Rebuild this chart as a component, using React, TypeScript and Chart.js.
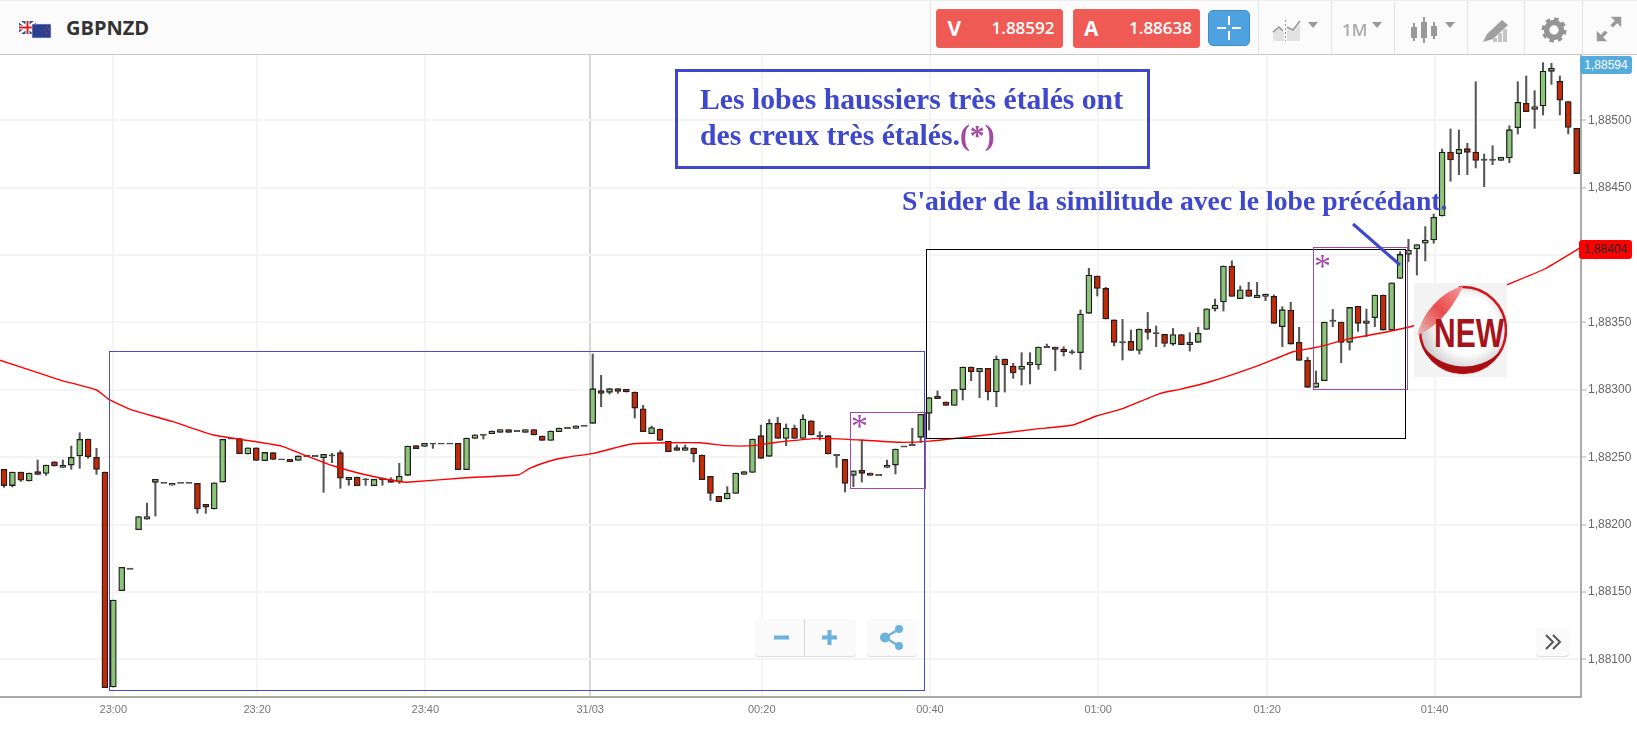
import React, { useEffect, useRef } from "react";
import { Chart, registerables } from "chart.js";

Chart.register(...registerables);

// All prices are written as points above BASE (1 point = 0.00001).
const BASE = 1.88;
const POINT = 0.00001;

const opens = [241,229,239,232.4,239.3,238,246.7,242.5,244.2,251,263.5,250,239,79.5,151,167.3,196.3,204,231.4,231,229.2,231,231,230.6,215,211.6,231.6,263.8,263.8,252.4,257,247.5,253.4,248.4,248.4,247.7,
250.9,250.9,249.7,251.4,253.4,233.4,235.3,233.6,228.9,234.6,233.4,231.9,236.6,258.6,258.1,260.1,260.1,260.1,260.3,240.8,264,266.7,267.5,268.5,270.5,269.5,268.5,270.5,265.8,262.5,269,271.7,271.4,273.4,275.2,
299.4,298.2,300.9,300.4,298.4,286,267.5,271,261.8,257.1,255.1,256.9,251.7,235.8,221,219,223.2,237.3,238.8,266,250.7,275.2,264,271.7,264,277.1,265.8,266,251.7,248.4,236.6,240.3,238.3,236.8,242.5,244.2,
258,259.1,264.8,282.6,295.2,291,288.5,300.2,317,313.5,316,298.4,322.9,317.7,315.2,318.5,318.5,331.8,331.8,330.3,327.9,327.6,356.8,384.5,375.3,351.9,335.3,336,329.3,345.2,342,341.2,334,341,333.5,335.3,344.9,360,365.2,391.9,367.7,374.3,368.4,369.4,369.4,346.9,359.2,335.3,321.9,301.9,306.8,351.3,350.3,335.3,362,349.4,353.6,370.4,344.4,382.7,
400.6,404.6,408.8,411.2,429,476.5,475.3,479,476.5,470.8,470.8,470.3,472.1,494.6,512.6,508.2,510.7,536.4,529,513.9,494.1];

const closes = [229,239,233,238.3,237.3,244.2,243.5,244.2,250,263.3,250.4,241,79,144,168.3,167.3,206,206,233.6,231,230.6,231,231,211.6,213,231,263.3,263.8,252.6,257,247.7,253.6,248.4,248.4,246.7,251,
250.9,250.9,252.2,251.4,234.4,235.1,228.9,233.6,233.6,233.1,231.4,236.1,258.3,256.4,260.3,260.1,260.1,260.1,240.8,264.3,266.7,266.7,269.5,270.5,268.5,269.5,270.5,266.5,262.5,269.5,271.7,271.7,273.4,273.4,300.9,
297.4,300.9,298.9,298.4,286.5,269,272,262.5,254.1,255.1,257.1,252.4,233.4,223.2,217,223.5,238.3,239.3,263.5,249.2,275.2,264,271.7,264,278.4,266.5,265.8,252.4,251.7,230.6,240,238.1,236.6,236.8,244.2,256.1,
258,259.1,281.9,294.2,293.5,288.5,300.2,317,313.5,316,298.4,322.9,318.5,312.5,317.7,320.4,331.8,331.8,330.1,328.4,327.9,356.3,385.2,375.3,352.6,335.3,335.3,329.3,345.2,342.7,342,334.5,341,333.5,335.3,342,360.2,363,391.9,369.4,374.3,369.4,370.4,371.1,349.4,359.5,334,321.9,301.9,305.3,350.3,351.3,335.3,361.2,349.4,351.3,370.4,344.4,379.5,400.5,
403.8,407.8,411.2,428,476.5,470.6,478.5,476.3,470.3,470.8,470.8,472.6,493.1,513.4,506.5,510.2,536.6,538.6,514.9,494.8,460.5];

const highs = [241,239,239,238.3,248,244.2,246.7,248,258.3,268.2,263.5,256.6,239,144,168.3,167.3,206,216,233.6,231,230.6,231,231,230.6,215,231,263.3,263.8,263.8,257,257,253.6,253.4,248.4,248.4,251,
250.9,250.9,252.2,252.9,254.9,235.1,235.3,234.3,233.6,234.6,234.8,245.5,258.3,258.6,260.3,260.1,260.1,260.1,260.3,264.3,266.7,266.7,269.5,270.5,270.5,269.5,270.5,270.5,265.8,269.5,271.7,271.7,273.4,273.4,326.6,
310.8,300.9,300.9,300.4,298.4,288.5,273.2,271,261.8,259.1,259.1,256.9,251.7,235.8,221,228.2,238.3,239.3,263.5,273.9,278.1,279.6,274.7,273.9,281.6,277.1,269,266,251.7,248.4,240,262.8,238.3,236.8,247.9,256.1,
258,271.5,281.9,294.2,299.2,291,300.2,317,317,316,316,325.1,322.9,319.7,327.6,327.6,331.8,334,331.8,332,329.6,359.3,390.2,384.5,376.1,351.9,352.3,344.4,345.2,357.5,347.4,341.2,345.6,341,342.4,346.4,360.2,367.4,391.9,395.8,377.1,379.8,379.8,371.1,370.4,361.7,365,346.4,324.1,314,350.3,359.7,350.3,361.2,362,360,370.4,370.4,379.5,402.5,
411.7,407.8,421.1,430.5,478.7,493.6,492.8,483,528.7,475,481.2,472.6,496,528.7,532.9,522,542.8,542.3,532.9,513.9,494.1];

const lows = [227.7,228,232,232.4,237,236.6,243.5,242.5,241,241.8,249.2,237.3,79,79.5,151,167.3,196.3,204,206.4,231,229.2,231,231,208.4,208.4,211.6,231.6,263.8,252.6,252.4,247.7,247.5,248.4,248.4,246.7,247.7,
250.9,250.9,224,246,227,229.2,228.9,229.2,228.9,229.2,231.4,230.6,236.6,256.4,258.1,256.6,260.1,260.1,240.8,240.8,264,263.5,267.5,268.5,268.5,269.5,268.5,266.5,262.5,262.5,269,271.7,271.4,273.4,275.2,
287.5,296.9,297.4,298.4,279.1,269,267.5,262.5,254.1,255.1,255.1,246.5,233.4,218,217,219,223.2,237.3,238.8,249.2,250.7,264,258.6,264,264,266.5,262.8,252.4,242.5,224.2,228.2,231.6,236.6,236.8,242.5,237.6,
258,259.1,261,270.2,293.5,288.5,288.5,292.5,306.8,294.2,292.5,287.5,298.4,308.6,303.6,304.4,315.2,331.8,314.3,325.1,326.6,315.2,356.8,369.7,352.6,332.6,322.2,329.3,326.6,337.5,332.1,332,333,333.5,328.8,335.3,344.9,358.5,358.5,369.4,367.7,369.4,368.4,366.2,349.4,332,334,321.9,301.9,301.9,306.8,346.9,320.2,329.6,343.4,339.5,346.9,344.4,344.4,382.7,
395.2,385.2,395.7,408.8,429,454.8,459.7,459.7,464.7,450.8,467.1,470.3,468.6,489.9,506.5,494.1,504,526.7,504,489.9,460.5];

// Moving average, read at the bends of the line: candle position and price points.
const maPositions = [-0.5,6.7,11,12.4,15,20.1,24.9,30,33,35.2,39.2,43.1,47.1,48.3,55,61.2,62.5,64.9,66.9,70.1,74.8,82.8,85.9,89.1,91.9,97,101.8,106.5,110.1,116.2,122.4,127.1,129.9,133.1,137.5,139.8,143.4,149.3,153.3,156.1,159.7,163.6,167.6,178.9,183.2,187.3];
const maValues = [322.1,307.3,299.9,293.2,285.6,276.4,266.5,261.5,258.3,252.9,243.5,236.8,231.8,231.6,234.8,237,241.8,247.2,250,252.9,260,260.8,258.6,258.6,261.1,264,262.8,261.1,262,266.1,270.7,273.9,280.6,286.3,297.4,300.4,306,318.4,328.3,331.6,337.5,342,347.6,378.5,389.7,405];

const xTickPositions = [13, 30.1, 50.1, 69.7, 90.1, 110.1, 130.1, 150.2, 170.1];
const xTickLabels = ["23:00", "23:20", "23:40", "31/03", "00:20", "00:40", "01:00", "01:20", "01:40"];
const yTicks = [1.881, 1.8815, 1.882, 1.8825, 1.883, 1.8835, 1.884, 1.8845, 1.885];

const toPrice = (p: number) => BASE + p * POINT;
const GREEN = "#8cc47a";
const RED = "#c42a08";
const INK = "#3f48cc";
const PURPLE = "#a349a4";

function Frame({ l, t, r, b, color, w = 1 }: { l: number; t: number; r: number; b: number; color: string; w?: number }) {
  return (
    <div style={{ position: "absolute", left: l, top: t, width: r - l, height: b - t, boxSizing: "border-box", border: `${w}px solid ${color}` }} />
  );
}

function Caret({ x, y }: { x: number; y: number }) {
  return <div style={{ position: "absolute", left: x, top: y, width: 0, height: 0, borderLeft: "5px solid transparent", borderRight: "5px solid transparent", borderTop: "6px solid #999" }} />;
}

function Divider({ x }: { x: number }) {
  return <div style={{ position: "absolute", left: x, top: 0, width: 1, height: 55, background: "#e4e4e4" }} />;
}

function Toolbar() {
  const btn = { position: "absolute", top: 8, height: 39, borderRadius: 3, background: "#ef5a55", border: "1px solid #e8605c", boxSizing: "border-box", color: "#fff", fontFamily: "'Open Sans'" } as React.CSSProperties;
  return (
    <div style={{ position: "absolute", left: 0, top: 0, width: 1637, height: 55, background: "#fbfbfb", borderTop: "1px solid #eee", borderBottom: "1px solid #c8c8c8", boxSizing: "border-box" }}>
      <svg style={{ position: "absolute", left: 18, top: 19 }} width="36" height="19" viewBox="0 0 36 19">
        <rect x="1" y="1" width="17" height="13" fill="#3b4a8c" />
        <path d="M1 1L18 14M18 1L1 14" stroke="#fff" strokeWidth="2.5" />
        <path d="M9.5 1V14M1 7.5H18" stroke="#fff" strokeWidth="4" />
        <path d="M9.5 1V14M1 7.5H18" stroke="#d22" strokeWidth="2" />
        <rect x="14" y="4" width="19" height="14" fill="#2c3f8f" stroke="#dde" strokeWidth="0.6" />
        <path d="M28 7h.8M30 9h.8M26 10h.8M28 13h.8" stroke="#e44" strokeWidth="1.4" />
      </svg>
      <div style={{ position: "absolute", left: 66, top: 13, fontFamily: "'Open Sans'", fontWeight: 700, fontSize: 20, lineHeight: "27px", color: "#333" }}>GBPNZD</div>
      <Divider x={930} />
      <div style={{ ...btn, left: 935.5, width: 127 }}>
        <span style={{ position: "absolute", left: 11, top: 3, fontSize: 21, fontWeight: 700, lineHeight: "30px" }}>V</span>
        <span style={{ position: "absolute", right: 7, top: 5, fontSize: 17, fontWeight: 600, lineHeight: "26px" }}>1.88592</span>
      </div>
      <div style={{ ...btn, left: 1073, width: 127 }}>
        <span style={{ position: "absolute", left: 10, top: 3, fontSize: 21, fontWeight: 700, lineHeight: "30px" }}>A</span>
        <span style={{ position: "absolute", right: 7, top: 5, fontSize: 17, fontWeight: 600, lineHeight: "26px" }}>1.88638</span>
      </div>
      <div style={{ position: "absolute", left: 1207.5, top: 9, width: 42, height: 36, borderRadius: 5, background: "#4ea2e0", border: "1px solid #3f8fc9", boxSizing: "border-box" }}>
        <svg width="40" height="34" viewBox="0 0 40 34" style={{ position: "absolute", left: 0, top: 0 }}>
          <path d="M8 17H17M23 17H32M20 5V14M20 20V29" stroke="#fff" strokeWidth="2" />
        </svg>
      </div>
      <Divider x={1258} />
      <svg style={{ position: "absolute", left: 1272, top: 17 }} width="30" height="24" viewBox="0 0 30 24">
        <path d="M1 23V14L7 9L12 15V23Z" fill="#e2e2e2" />
        <path d="M15 23V9L21 12L28 6V23Z" fill="#e2e2e2" />
        <path d="M1 14L7 9L11 13M15 9L21 12L28 3" stroke="#999" strokeWidth="1.6" fill="none" />
        <path d="M13.5 2V23" stroke="#999" strokeWidth="1" strokeDasharray="2 2" />
      </svg>
      <Caret x={1308} y={21} />
      <Divider x={1331} />
      <div style={{ position: "absolute", left: 1342, top: 17, fontFamily: "'Open Sans'", fontWeight: 600, fontSize: 17, lineHeight: "24px", color: "#aaa" }}>1M</div>
      <Caret x={1372} y={21} />
      <Divider x={1394} />
      <svg style={{ position: "absolute", left: 1409, top: 14 }} width="30" height="30" viewBox="0 0 30 30">
        <path d="M5 8V26M15 2V28M25 7V24" stroke="#999" strokeWidth="2" />
        <rect x="2" y="12" width="6" height="11" fill="#999" />
        <rect x="12" y="7" width="6" height="16" fill="#999" />
        <rect x="22" y="11" width="6" height="10" fill="#999" />
      </svg>
      <Caret x={1445} y={21} />
      <Divider x={1467} />
      <svg style={{ position: "absolute", left: 1481, top: 17 }} width="30" height="26" viewBox="0 0 30 26">
        <path d="M2 24L6 16L21 2L27 7L12 21Z" fill="#a0a0a0" />
        <path d="M14 24V20M19 24V15M24 24V11" stroke="#c4c4c4" strokeWidth="4" />
      </svg>
      <Divider x={1524} />
      <svg style={{ position: "absolute", left: 1541, top: 16 }} width="26" height="26" viewBox="0 0 28 28">
        <circle cx="14" cy="14" r="8" fill="none" stroke="#949494" strokeWidth="6" />
        <circle cx="14" cy="14" r="11" fill="none" stroke="#949494" strokeWidth="5" strokeDasharray="4.5 4.1" />
      </svg>
      <Divider x={1582} />
      <svg style={{ position: "absolute", left: 1595, top: 14 }} width="28" height="28" viewBox="0 0 32 32">
        <path d="M4 28L13 19M28 4L19 13" stroke="#9a9a9a" strokeWidth="4" />
        <path d="M2 18V30H14ZM30 14V2H18Z" fill="#9a9a9a" />
      </svg>
    </div>
  );
}

function NewSticker() {
  return (
    <svg style={{ position: "absolute", left: 1414, top: 283 }} width="93" height="94" viewBox="0 0 93 94">
      <defs>
        <radialGradient id="face" cx="0.55" cy="0.45" r="0.6">
          <stop offset="0.55" stopColor="#ffffff" />
          <stop offset="1" stopColor="#bdbdbd" />
        </radialGradient>
        <linearGradient id="peel" x1="0" y1="1" x2="1" y2="0">
          <stop offset="0" stopColor="#e8c0c0" />
          <stop offset="0.5" stopColor="#e94b4b" />
          <stop offset="1" stopColor="#f79a9a" />
        </linearGradient>
      </defs>
      <rect width="93" height="94" fill="#f3f3f3" />
      <circle cx="49" cy="47" r="43" fill="url(#face)" stroke="#d3151b" strokeWidth="2.5" />
      <path d="M5 52A44 44 0 0 0 88 66A46 40 0 0 1 5 52Z" fill="#a80f14" />
      <path d="M0 0H48L4 51H0Z" fill="#f3f3f3" />
      <path d="M3 52C20 46 38 28 49 3C30 8 10 26 3 52Z" fill="url(#peel)" />
      <text x="20" y="64" fontFamily="'Liberation Sans'" fontWeight="700" fontSize="41" textLength="70" lengthAdjust="spacingAndGlyphs" fill="#a5141a">NEW</text>
    </svg>
  );
}

function Controls() {
  const card = { position: "absolute", background: "#fafafa", borderRadius: 4, boxShadow: "0 1px 1px #ddd" } as React.CSSProperties;
  return (
    <>
      <div style={{ ...card, left: 755, top: 619, width: 101, height: 37 }}>
        <div style={{ position: "absolute", left: 49, top: 0, width: 1, height: 37, background: "#d6d6d6" }} />
        <svg width="101" height="37" viewBox="0 0 101 37" style={{ position: "absolute", left: 0, top: 0 }}>
          <path d="M19 18.5H34M67 18.5H82M74.5 11V26" stroke="#6cb2de" strokeWidth="4" />
        </svg>
      </div>
      <div style={{ ...card, left: 867, top: 619, width: 50, height: 37 }}>
        <svg width="50" height="37" viewBox="0 0 50 37" style={{ position: "absolute", left: 0, top: 0 }}>
          <path d="M18 18.5L32 10M18 18.5L32 27" stroke="#6cb2de" strokeWidth="2.5" />
          <circle cx="18" cy="18.5" r="5" fill="#6cb2de" />
          <circle cx="32" cy="10" r="4" fill="#6cb2de" />
          <circle cx="32" cy="27" r="4" fill="#6cb2de" />
        </svg>
      </div>
      <div style={{ ...card, left: 1536, top: 628, width: 33, height: 28 }}>
        <svg width="33" height="28" viewBox="0 0 33 28" style={{ position: "absolute", left: 0, top: 0 }}>
          <path d="M10 7L17 14L10 21M17 7L24 14L17 21" stroke="#555" strokeWidth="2" fill="none" />
        </svg>
      </div>
    </>
  );
}

function Annotations() {
  const serif = { position: "absolute", fontFamily: "'Liberation Serif'", fontWeight: 700, whiteSpace: "nowrap", color: INK } as React.CSSProperties;
  const star = { ...serif, fontWeight: 400, width: 16, textAlign: "center", fontSize: 34, lineHeight: "34px", color: PURPLE } as React.CSSProperties;
  return (
    <>
      <Frame l={109} t={351} r={925} b={691} color="#4550c8" />
      <Frame l={926} t={249} r={1406} b={439} color="#000" />
      <Frame l={850} t={412} r={926} b={489} color={PURPLE} />
      <Frame l={1313} t={247} r={1408} b={390} color={PURPLE} />
      <div style={{ ...star, left: 851, top: 409 }}>*</div>
      <div style={{ ...star, left: 1314, top: 249 }}>*</div>
      <Frame l={675} t={69} r={1150} b={169} color={INK} w={3} />
      <div style={{ ...serif, left: 700, top: 82, fontSize: 29.7, lineHeight: "35px" }}>Les lobes haussiers très étalés ont</div>
      <div style={{ ...serif, left: 700, top: 118, fontSize: 29.7, lineHeight: "35px" }}>
        des creux très étalés.<span style={{ color: PURPLE }}>(*)</span>
      </div>
      <div style={{ ...serif, left: 902, top: 186, fontSize: 27.7, lineHeight: "30px" }}>S'aider de la similitude avec le lobe précédant.</div>
      <svg style={{ position: "absolute", left: 1345, top: 218 }} width="65" height="55" viewBox="0 0 65 55">
        <path d="M8 6L55 47" stroke={INK} strokeWidth="3" />
      </svg>
      <NewSticker />
      <div style={{ position: "absolute", left: 1580, top: 56, width: 52, height: 18, borderRadius: 3, background: "#55acdc", color: "#fff", fontFamily: "'Liberation Sans'", fontSize: 12, lineHeight: "18px", textAlign: "center" }}>1,88594</div>
      <div style={{ position: "absolute", left: 1579, top: 240, width: 53, height: 19, borderRadius: 3, background: "#ff0000", color: "#222", fontFamily: "'Liberation Sans'", fontSize: 12, lineHeight: "19px", textAlign: "center" }}>1,88404</div>
    </>
  );
}

export default function App() {
  const ref = useRef<HTMLCanvasElement>(null);
  useEffect(() => {
    if (!ref.current) return;
    const up = opens.map((o, i) => closes[i] >= o);
    const doji = opens.map((o, i) => o === closes[i]);
    const chart = new Chart(ref.current, {
      type: "bar",
      data: {
        datasets: [
          {
            type: "bar",
            label: "Mèches",
            order: 3,
            grouped: false,
            barThickness: 1.4,
            backgroundColor: "#555",
            borderWidth: 0,
            data: highs.map((h, i) => ({ x: i, y: [toPrice(lows[i]), toPrice(h)] })),
          },
          {
            type: "bar",
            label: "Corps",
            order: 2,
            grouped: false,
            barThickness: 6,
            backgroundColor: opens.map((_, i) => (doji[i] ? "#444" : up[i] ? GREEN : RED)),
            borderColor: opens.map((_, i) => (doji[i] ? "#444" : "#1f1f1f")),
            borderWidth: 1.3,
            borderSkipped: false,
            data: opens.map((o, i) => ({
              x: i,
              y: doji[i] ? [toPrice(o - 0.45), toPrice(o + 0.45)] : [toPrice(o), toPrice(closes[i])],
            })),
          },
          {
            type: "line",
            label: "Moyenne mobile",
            order: 1,
            borderColor: "#ff0000",
            borderWidth: 1.4,
            pointRadius: 0,
            tension: 0.15,
            data: maPositions.map((x, i) => ({ x, y: toPrice(maValues[i]) })),
          },
        ],
      } as any,
      options: {
        animation: false,
        responsive: false,
        devicePixelRatio: 1,
        layout: { padding: { top: 55, left: 0, right: 0, bottom: 0 } },
        plugins: { legend: { display: false }, title: { display: false }, tooltip: { enabled: false } },
        scales: {
          x: {
            type: "linear",
            min: -0.4756,
            max: 187.515,
            offset: false,
            afterBuildTicks: (scale: any) => {
              scale.ticks = xTickPositions.map((value) => ({ value }));
            },
            afterFit: (scale: any) => {
              scale.height = 35;
            },
            grid: {
              offset: false,
              color: (ctx: any) => (ctx.tick && ctx.tick.value === 69.7 ? "#d8d8d8" : "#f4f4f4"),
              lineWidth: 2,
              drawTicks: false,
            },
            border: { color: "#aaaaaa", width: 2 },
            ticks: {
              autoSkip: false,
              maxRotation: 0,
              padding: 6,
              color: "#777",
              font: { family: "'Liberation Sans'", size: 11 },
              callback: (v: any) => {
                const k = xTickPositions.indexOf(Number(v));
                return k >= 0 ? xTickLabels[k] : "";
              },
            },
          },
          y: {
            type: "linear",
            position: "right",
            min: toPrice(72.1),
            max: toPrice(548.5),
            afterBuildTicks: (scale: any) => {
              scale.ticks = yTicks.map((value) => ({ value }));
            },
            afterFit: (scale: any) => {
              scale.width = 56;
            },
            grid: { color: "#f4f4f4", lineWidth: 2, tickColor: "#aaaaaa", tickWidth: 1, tickLength: 5 },
            border: { color: "#aaaaaa", width: 2 },
            ticks: {
              padding: 2,
              color: "#666",
              font: { family: "'Liberation Sans'", size: 12 },
              callback: (v: any) => Number(v).toFixed(5).replace(".", ","),
            },
          },
        },
      } as any,
    });
    return () => chart.destroy();
  }, []);

  return (
    <div style={{ position: "absolute", left: 0, top: 0, width: 1637, height: 732, background: "#fff", overflow: "hidden" }}>
      <canvas ref={ref} width={1637} height={732} style={{ display: "block", width: 1637, height: 732 }} />
      <Toolbar />
      <Annotations />
      <Controls />
    </div>
  );
}
